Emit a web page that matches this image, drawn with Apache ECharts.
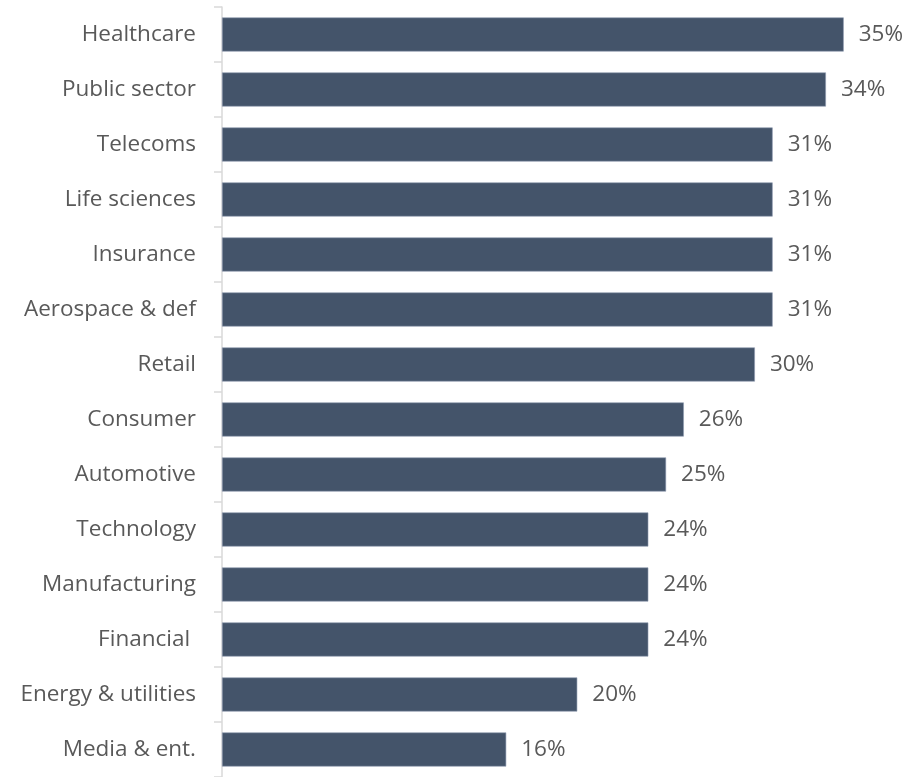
<!DOCTYPE html>
<html>
<head>
<meta charset="utf-8">
<script src="https://cdn.jsdelivr.net/npm/echarts@6/dist/echarts.min.js"></script>
<style>
  html, body { margin: 0; padding: 0; background: #ffffff; }
  #chart { width: 915px; height: 777px; }
</style>
</head>
<body>
<div id="chart"></div>
<script>
// Sectors, listed top to bottom
const sectors = [
  'Healthcare', 'Public sector', 'Telecoms', 'Life sciences', 'Insurance',
  'Aerospace & def', 'Retail', 'Consumer', 'Automotive', 'Technology',
  'Manufacturing', 'Financial ', 'Energy & utilities', 'Media & ent.'
];
// Share per sector, in percent
const shares = [35, 34, 31, 31, 31, 31, 30, 26, 25, 24, 24, 24, 20, 16];

const labelFont = '"Open Sans", sans-serif';
const textColor = '#595959';

const chart = echarts.init(document.getElementById('chart'));
chart.setOption({
  animation: false,
  grid: { left: 222, top: 7, width: 675, height: 774, containLabel: false },
  xAxis: {
    type: 'value', min: 0, max: 38,
    show: false
  },
  yAxis: {
    type: 'category',
    inverse: true,
    data: sectors,
    axisLine: { show: true, lineStyle: { color: '#d9d9d9', width: 1.5 } },
    axisTick: { show: true, length: 8, lineStyle: { color: '#d9d9d9', width: 1.5 } },
    axisLabel: {
      color: textColor, fontFamily: labelFont, fontSize: 22.5, margin: 26,
      padding: [3, 0, 0, 0]
    },
    splitLine: { show: false }
  },
  series: [{
    type: 'bar',
    data: shares,
    barCategoryGap: '38%',
    itemStyle: { color: '#44546a', borderColor: '#8f9bb0', borderWidth: 0.6 },
    label: {
      show: true, position: 'right', distance: 15,
      formatter: p => p.value + '%',
      color: textColor, fontFamily: labelFont, fontSize: 22.5,
      padding: [4, 0, 0, 0]
    }
  }]
});
</script>
</body>
</html>
